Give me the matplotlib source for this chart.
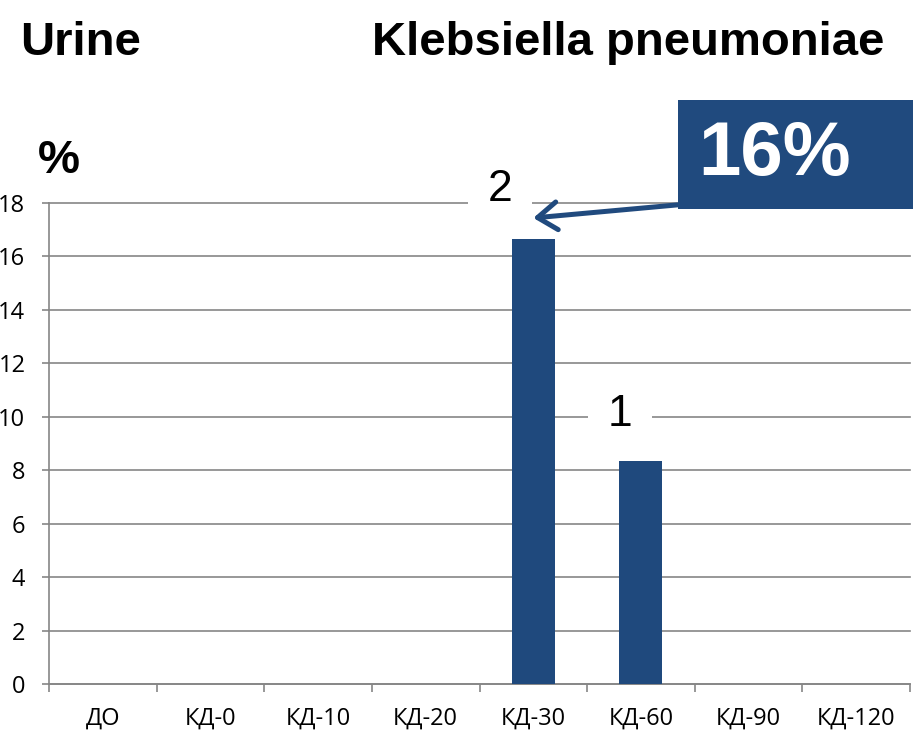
import matplotlib
matplotlib.use("Agg")
import matplotlib.pyplot as plt
from matplotlib.patches import Rectangle
from matplotlib.ticker import FixedLocator, NullFormatter

# Klebsiella pneumoniae isolates in urine by sampling point
categories = ["ДО", "КД-0", "КД-10", "КД-20", "КД-30", "КД-60", "КД-90", "КД-120"]
percent = [0, 0, 0, 0, 16.67, 8.33, 0, 0]
counts = [0, 0, 0, 0, 2, 1, 0, 0]
y_ticks = [0, 2, 4, 6, 8, 10, 12, 14, 16, 18]

BLUE = "#1F497D"
GRID = "#868686"
TICK_FONT = ["Open Sans", "DejaVu Sans"]
HEAD_FONT = ["Liberation Sans", "DejaVu Sans"]

W, H = 913, 735
fig = plt.figure(figsize=(W / 100, H / 100), dpi=100)
ax = fig.add_axes([49 / W, 1 - 684 / H, (910 - 49) / W, (684 - 203) / H])

x = list(range(len(categories)))
ax.bar(x, percent, width=0.4, color=BLUE, zorder=3)

ax.set_xlim(-0.5, len(categories) - 0.5)
ax.set_ylim(0, 18)
ax.set_yticks(y_ticks)
ax.set_yticklabels([str(t) for t in y_ticks], fontfamily=TICK_FONT, fontsize=17)
ax.yaxis.grid(True, color=GRID, linewidth=1.2, zorder=0)
for gl in ax.get_ygridlines():
    gl.set_clip_on(False)
ax.set_axisbelow(True)

# category labels centred, tick marks on category boundaries
ax.set_xticks(x)
ax.set_xticklabels(categories, fontfamily=TICK_FONT, fontsize=17)
ax.xaxis.set_minor_locator(FixedLocator([i - 0.5 for i in range(len(categories) + 1)]))
ax.xaxis.set_minor_formatter(NullFormatter())
ax.tick_params(axis="x", which="major", length=0, pad=16)
ax.tick_params(axis="x", which="minor", length=6, width=1.2, color=GRID)
ax.tick_params(axis="y", length=5, width=1.2, color=GRID, pad=12)

for side in ("top", "right"):
    ax.spines[side].set_visible(False)
for side in ("left", "bottom"):
    ax.spines[side].set_color(GRID)
    ax.spines[side].set_linewidth(1.2)

# isolate counts above the bars
offsets = {4: (-24, 35), 5: (-15, 34)}
for i, (v, n) in enumerate(zip(percent, counts)):
    if n:
        dx, dy = offsets[i]
        ax.annotate(str(n), xy=(i, v), xytext=(dx, dy), textcoords="offset points",
                    ha="center", va="center", fontsize=32, fontfamily=HEAD_FONT,
                    bbox=dict(boxstyle="square,pad=0.45", facecolor="white", edgecolor="none"),
                    zorder=4, annotation_clip=False)

# headline box with arrow to the tallest bar
peak = max(range(len(percent)), key=lambda k: percent[k])
fig.add_artist(Rectangle((678 / W, 1 - 209 / H), 1 - 678 / W, 109 / H,
                         transform=fig.transFigure, facecolor="#204A7E", edgecolor="none"))
fig.text(774.5 / W, 1 - 156 / H, f"{int(percent[peak])}%", color="white",
         fontsize=55, fontweight="bold", fontfamily=HEAD_FONT, ha="center", va="center")
ax.annotate("", xy=(peak, 17.44), xytext=(peak + 1.34, 17.93),
            arrowprops=dict(arrowstyle="->,head_length=0.7,head_width=0.5",
                            mutation_scale=20, lw=3.6, color="#204A7E",
                            shrinkA=0, shrinkB=0),
            annotation_clip=False, zorder=5)

fig.text(20 / W, 1 - 55 / H, "Urine", fontsize=34, fontweight="bold",
         fontfamily=HEAD_FONT, ha="left", va="baseline")
fig.text(372 / W, 1 - 55 / H, "Klebsiella pneumoniae", fontsize=34, fontweight="bold",
         fontfamily=HEAD_FONT, ha="left", va="baseline")
fig.text(38 / W, 1 - 173 / H, "%", fontsize=34, fontweight="bold",
         fontfamily=HEAD_FONT, ha="left", va="baseline")

fig.savefig("out.png", dpi=100)
